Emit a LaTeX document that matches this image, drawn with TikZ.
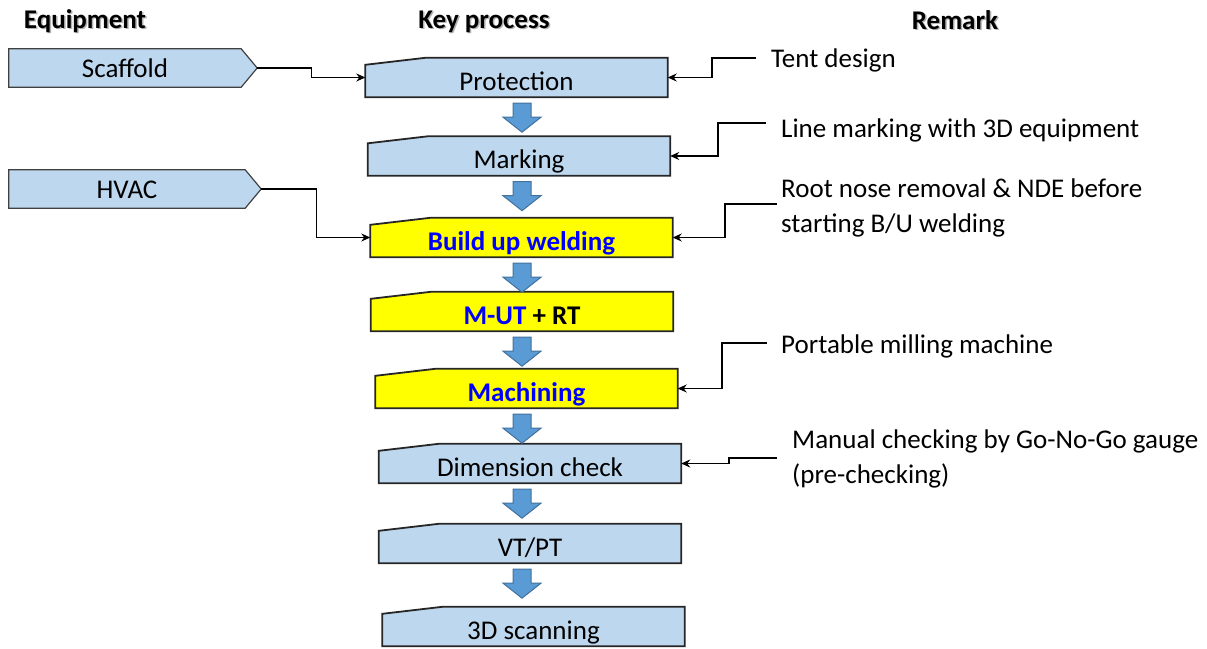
\documentclass[tikz,border=0pt]{standalone}
\usepackage{fontspec}
\setmainfont{Carlito}
\usepackage{tikz}
\usetikzlibrary{arrows.meta,backgrounds,calc}

\definecolor{procblue}{HTML}{BDD7EE}
\definecolor{procyellow}{HTML}{FFFF00}
\definecolor{flowblue}{HTML}{5B9BD5}
\definecolor{flowedge}{HTML}{41719C}
\definecolor{keyblue}{HTML}{0000FF}

\newcommand{\shadowed}[1]{\rlap{\hspace{1.5pt}\raisebox{-1.5pt}{\textcolor{black!30}{#1}}}#1}

\begin{document}
\begin{tikzpicture}[x=1pt,y=-1pt,>={Stealth[length=9pt,width=8pt]},
                    font=\fontsize{27}{35}\selectfont]
  \tikzset{
    keybox/.style={minimum width=302pt,minimum height=39pt,inner sep=0pt,
                   text height=31pt,text depth=6pt},
    equip/.style={minimum width=232pt,minimum height=38pt,inner sep=0pt,
                  text height=24pt,text depth=6pt},
    remark/.style={anchor=base west,inner sep=0pt,align=left},
    heading/.style={anchor=base,inner sep=0pt,
                    font=\fontsize{27}{32}\selectfont\bfseries},
    feed/.style={->,line width=1.3pt},
    keyline/.style={draw=black!85,line width=1.8pt},
    equipline/.style={draw=black!75,line width=1.2pt,fill=procblue},
    flow/.style={fill=flowblue,draw=flowedge,line width=1pt}
  }
  \useasboundingbox (0,0) rectangle (1207,648);

  % headings
  \node[heading] (hequip)  at (85,28)  {\shadowed{Equipment}};
  \node[heading] (hkey)    at (484,28) {\shadowed{Key process}};
  \node[heading] (hremark) at (955,29) {\shadowed{Remark}};

  % equipment
  \node[equip]                      (scaf) at (125,68)  {Scaffold};
  \node[equip,minimum width=236pt]  (hvac) at (127,189) {HVAC};

  % key process
  \node[keybox] (prot)  at (516.5,77.5)  {Protection};
  \node[keybox] (mark)  at (519,156)     {Marking};
  \node[keybox] (build) at (521.5,237.5) {\textbf{\textcolor{keyblue}{Build up welding}}};
  \node[keybox] (mut)   at (522,311.5)   {\textbf{\textcolor{keyblue}{M-UT} + RT}};
  \node[keybox] (mach)  at (526.5,388.5) {\textbf{\textcolor{keyblue}{Machining}}};
  \node[keybox] (dim)   at (530,463.5)   {Dimension check};
  \node[keybox] (vt)    at (530,543.5)   {VT/PT};
  \node[keybox] (scan)  at (533.5,626.5) {3D scanning};

  % remarks (two-line ones sit on their last baseline)
  \node[remark] (tent) at (771,67)  {Tent design};
  \node[remark] (line) at (781,137) {Line marking with 3D equipment};
  \node[remark] (root) at (781,232) {Root nose removal \& NDE before\\starting B/U welding};
  \node[remark] (port) at (781,353) {Portable milling machine};
  \node[remark] (man)  at (792,483) {Manual checking by Go-No-Go gauge\\(pre-checking)};

  \begin{scope}[on background layer]
    \foreach \n/\c in {prot/procblue,mark/procblue,build/procyellow,mut/procyellow,
                       mach/procyellow,dim/procblue,vt/procblue,scan/procblue}
      \draw[keyline,fill=\c] (\n.south west) -- ([yshift=-7pt]\n.north west)
        -- ([xshift=60pt]\n.north west) -- (\n.north east) -- (\n.south east) -- cycle;
    \foreach \n in {scaf,hvac}
      \draw[equipline] (\n.south west) -- (\n.north west) -- (\n.north east)
        -- ([xshift=16pt]\n.east) -- (\n.south east) -- cycle;
  \end{scope}

  % flow arrows
  \coordinate (flowx) at (522,0);
  \foreach \a in {prot,mark,build,mut,mach,dim,vt}
    \draw[flow] ($(\a.south -| flowx)+(0pt,-6pt)$) ++(-9pt,0pt) -- ++(18pt,0pt)
      -- ++(0pt,-14pt) -- ++(10pt,0pt) -- ++(-19pt,-15pt) -- ++(-19pt,15pt)
      -- ++(10pt,0pt) -- cycle;

  % equipment feeds
  \draw[feed] ([xshift=16pt]scaf.east) -- ++(54pt,0pt) |- (prot.west);
  \draw[feed] ([xshift=16pt]hvac.east) -- ++(55pt,0pt) |- (build.west);

  % remark feeds
  \coordinate (tent-in) at (756,58);
  \coordinate (line-in) at (766,123);
  \coordinate (root-in) at (777,204);
  \coordinate (port-in) at (767,343);
  \coordinate (man-in)  at (777,458);
  \draw[feed] (tent-in) -- ++(-44pt,0pt) |- (prot.east);
  \draw[feed] (line-in) -- ++(-48pt,0pt) |- (mark.east);
  \draw[feed] (root-in) -- ++(-52pt,0pt) |- (build.east);
  \draw[feed] (port-in) -- ++(-45pt,0pt) |- (mach.east);
  \draw[feed] (man-in)  -- ++(-48pt,0pt) |- (dim.east);
\end{tikzpicture}
\end{document}
